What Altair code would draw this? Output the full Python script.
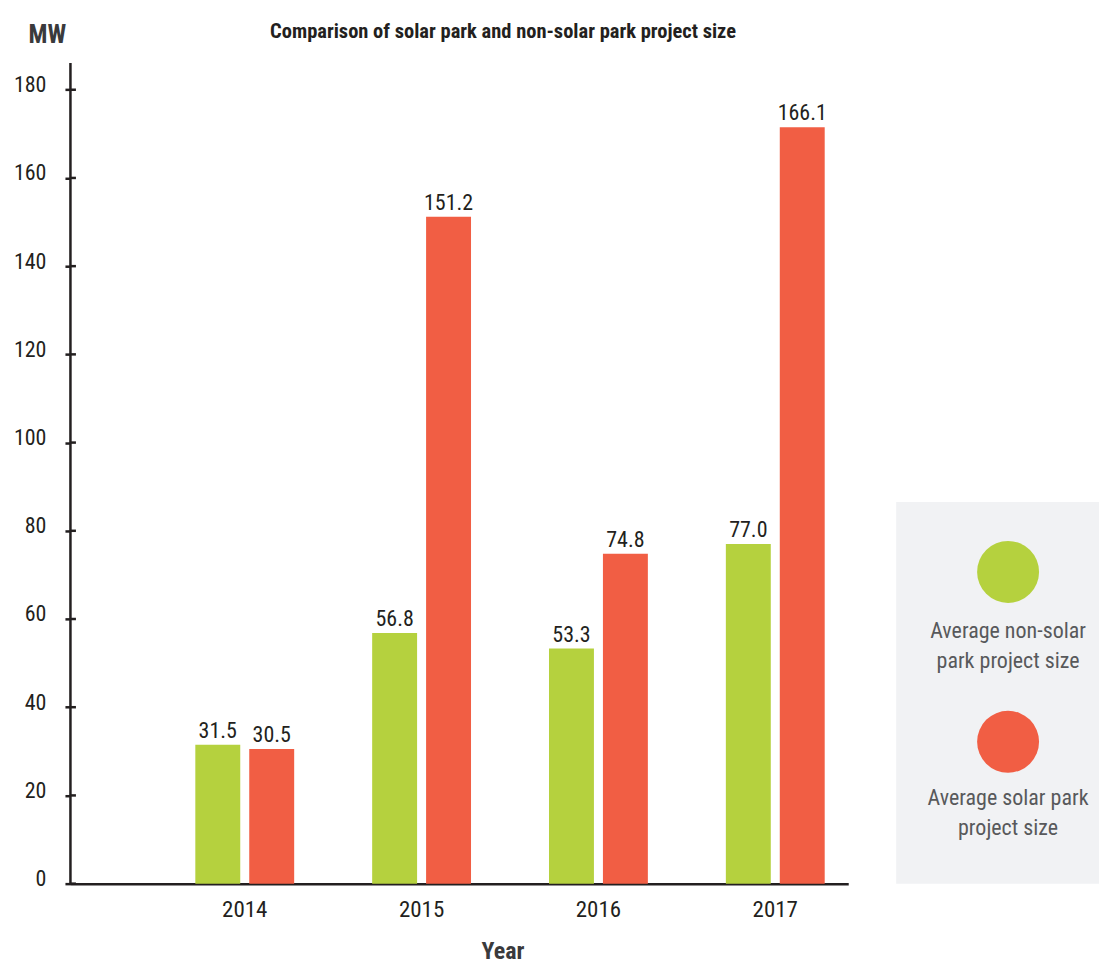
import altair as alt
import pandas as pd

# ---- data ----
years = ["2014", "2015", "2016", "2017"]
series = ["Average non-solar park project size", "Average solar park project size"]
legend_text = ["Average non-solar\npark project size", "Average solar park\nproject size"]
non_solar_labels = [31.5, 56.8, 53.3, 77.0]
solar_labels = [30.5, 151.2, 74.8, 166.1]
# bar heights as drawn in the reference (2017 solar bar is drawn taller than its label)
non_solar_bars = [31.5, 56.8, 53.3, 77.0]
solar_bars = [30.5, 151.2, 74.8, 171.5]
y_ticks = [0, 20, 40, 60, 80, 100, 120, 140, 160, 180]

colors = ["#b5d13e", "#f15e44"]
DARK = "#231f20"
GREY = "#58595b"
FONT = "Roboto Condensed"

rows = []
for i, y in enumerate(years):
    rows.append({"year": y, "series": series[0], "value": non_solar_bars[i], "label": f"{non_solar_labels[i]:.1f}"})
    rows.append({"year": y, "series": series[1], "value": solar_bars[i], "label": f"{solar_labels[i]:.1f}"})
df = pd.DataFrame(rows)

W, H = 779, 822

x_enc = alt.X(
    "year:N",
    sort=years,
    scale=alt.Scale(domain=years, paddingInner=0.441, paddingOuter=0.421, align=0.842),
    axis=alt.Axis(
        title="Year", titleX=433, titleY=75, titleFontSize=24, titleFontWeight="bold",
        titleFont=FONT, titleColor="#3a3a3c", titleBaseline="alphabetic",
        labelAngle=0, labelFontSize=23, labelFont=FONT, labelColor=DARK, labelPadding=15,
        ticks=False, domainColor=DARK, domainWidth=2.5,
    ),
)
xoff_enc = alt.XOffset("series:N", sort=series, scale=alt.Scale(domain=series, paddingInner=0.167, paddingOuter=0))
y_scale = alt.Scale(domain=[0, 186.2], nice=False, zero=True)
y_axis = alt.Axis(
    values=y_ticks, title="MW", titleAngle=0, titleX=-42, titleY=-20, titleAlign="left",
    titleBaseline="alphabetic", titleFontSize=25, titleFontWeight="bold", titleFont=FONT,
    titleColor="#3a3a3c",
    labelFontSize=22, labelFont=FONT, labelColor=DARK, labelPadding=19, labelBaseline="alphabetic",
    labelOffset=2, tickSize=5, tickWidth=2.5, tickColor=DARK, domainColor=DARK, domainWidth=2.5,
    grid=False,
)
color_enc = alt.Color("series:N", scale=alt.Scale(domain=series, range=colors), legend=None)

bars = alt.Chart(df).mark_bar().encode(
    x=x_enc, xOffset=xoff_enc, y=alt.Y("value:Q", scale=y_scale, axis=y_axis), color=color_enc
)
labels = alt.Chart(df).mark_text(
    dy=-7, baseline="alphabetic", fontSize=22, font=FONT, color=DARK
).encode(x=alt.X("year:N", sort=years), xOffset=alt.XOffset("series:N", sort=series), y=alt.Y("value:Q"), text="label:N")

tick_df = pd.DataFrame({"value": y_ticks})
inner_ticks = alt.Chart(tick_df).mark_rule(color=DARK, strokeWidth=2.5).encode(
    y=alt.Y("value:Q"), x=alt.value(0), x2=alt.value(6)
)

# ---- legend panel ----
leg_df = pd.DataFrame({"series": series, "text": legend_text})
legend_box = alt.Chart(pd.DataFrame({"k": [0]})).mark_rect(color="#f1f2f4").encode(
    x=alt.value(827), x2=alt.value(1030), y=alt.value(440), y2=alt.value(822)
)
legend_layers = [legend_box]
circle_y = [510, 680]
text_y = [576, 743]
for i, s in enumerate(series):
    legend_layers.append(
        alt.Chart(leg_df).transform_filter(alt.datum.series == s).mark_point(
            filled=True, shape="circle", size=3844, opacity=1
        ).encode(x=alt.value(939), y=alt.value(circle_y[i]), color=alt.value(colors[i]))
    )
    legend_layers.append(
        alt.Chart(leg_df).transform_filter(alt.datum.series == s).mark_text(
            lineBreak="\n", lineHeight=30, fontSize=22, font=FONT, color=GREY,
            align="center", baseline="alphabetic"
        ).encode(x=alt.value(939), y=alt.value(text_y[i]), text="text:N")
    )

chart = alt.layer(bars, labels, inner_ticks, *legend_layers).properties(
    width=W, height=H,
    title=alt.Title(
        "Comparison of solar park and non-solar park project size",
        fontSize=20.5, fontWeight="bold", font=FONT, color=DARK, anchor="middle", dx=44, offset=-20,
    ),
    padding={"left": 5, "top": 13, "right": 0, "bottom": 0},
).configure(background="white").configure_view(stroke=None)

chart.save("out.html", embed_options={"renderer": "svg", "actions": False})
